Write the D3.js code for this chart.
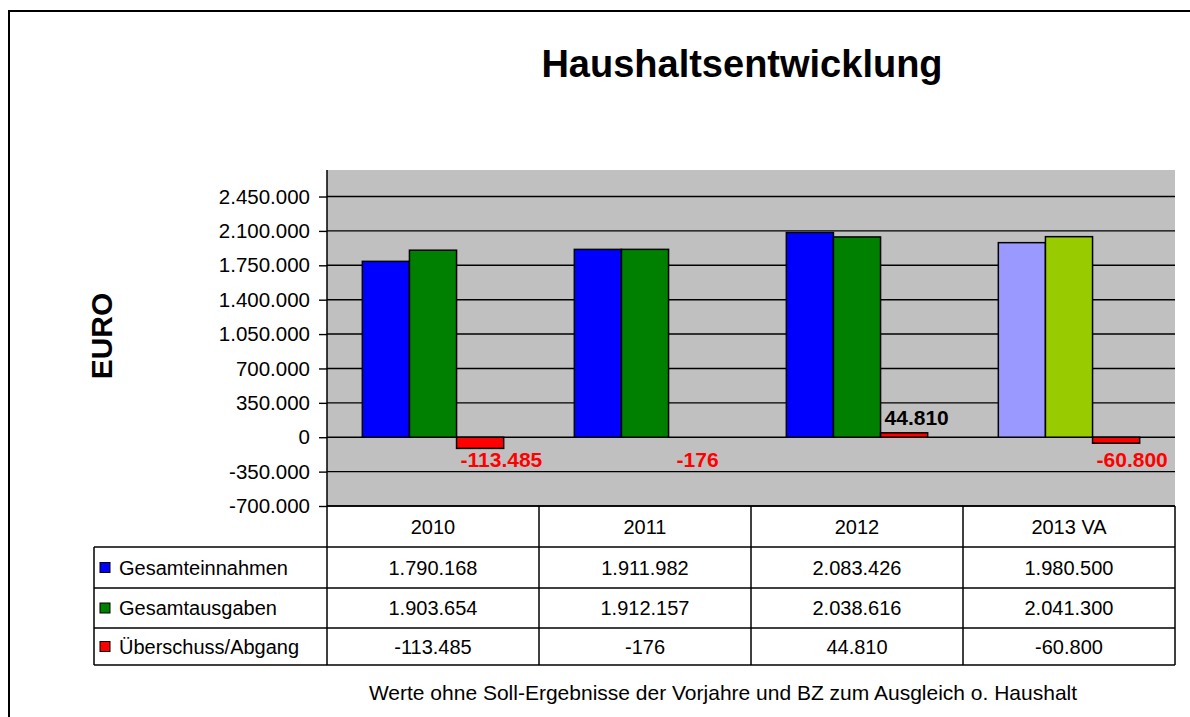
<!DOCTYPE html>
<html>
<head>
<meta charset="utf-8">
<script src="https://cdn.jsdelivr.net/npm/d3@7"></script>
<style>
  html, body { margin: 0; background: #fff; overflow: hidden; }
  svg { display: block; }
  svg text { font-family: "Liberation Sans", Arial, sans-serif; }
</style>
</head>
<body>
<div id="chart"></div>
<script>
// --- Daten ---
const years = ["2010", "2011", "2012", "2013 VA"];
const seriesNames = ["Gesamteinnahmen", "Gesamtausgaben", "Überschuss/Abgang"];
const einnahmen = [1790168, 1911982, 2083426, 1980500];
const ausgaben = [1903654, 1912157, 2038616, 2041300];
const ueberschuss = [-113485, -176, 44810, -60800];
const yTicks = [-700000, -350000, 0, 350000, 700000, 1050000, 1400000, 1750000, 2100000, 2450000];

// Farben (2013 = Planwerte, hellere Töne)
const colors = ["#0000ff", "#008000", "#ff0000"];
const planColors = ["#9999ff", "#99cc00", "#ff0000"];

const title = "Haushaltsentwicklung";
const yLabel = "EURO";
const footnote = "Werte ohne Soll-Ergebnisse der Vorjahre und BZ zum Ausgleich o. Haushalt";

// --- Layout ---
const W = 1190, H = 717;
const plot = { left: 327, right: 1175, top: 170, bottom: 506 };
const rowLines = [506, 547, 588, 628, 665];
const legendLeft = 94;

const de = d3.formatLocale({ decimal: ",", thousands: ".", grouping: [3], currency: ["", " €"], minus: "-" });
const fmt = de.format(",d");

const svg = d3.select("#chart").append("svg")
  .attr("width", W)
  .attr("height", H);

svg.append("rect").attr("width", W).attr("height", H).attr("fill", "#fff");

// Rahmen (nur links und oben sichtbar)
svg.append("path")
  .attr("d", `M9,${H + 10}V11H${W + 10}`)
  .attr("fill", "none").attr("stroke", "#000").attr("stroke-width", 2);

// Skalen
const x = d3.scaleBand().domain(years).range([plot.left, plot.right]);
const xs = d3.scaleBand().domain(seriesNames).range([0, x.bandwidth()])
  .paddingInner(0).paddingOuter(0.75);
const y = d3.scaleLinear().domain([-700000, 2720000]).range([plot.bottom, plot.top]);

// Plotfläche
svg.append("rect")
  .attr("x", plot.left).attr("y", plot.top)
  .attr("width", plot.right - plot.left).attr("height", plot.bottom - plot.top)
  .attr("fill", "#c0c0c0");

// Gitterlinien
svg.append("g")
  .selectAll("line")
  .data(yTicks)
  .join("line")
  .attr("x1", plot.left).attr("x2", plot.right)
  .attr("y1", d => y(d)).attr("y2", d => y(d))
  .attr("stroke", "#000").attr("stroke-width", 1.4);

// Achse Y
const yAxis = svg.append("g")
  .attr("transform", `translate(${plot.left},0)`)
  .call(d3.axisLeft(y).tickValues(yTicks).tickSize(8).tickSizeOuter(0).tickPadding(9).tickFormat(fmt));
yAxis.select(".domain").attr("stroke", "#000").attr("stroke-width", 1.5)
  .attr("d", `M0,${plot.top}V${plot.bottom}`);
yAxis.selectAll(".tick line").attr("stroke", "#000").attr("stroke-width", 1.4);
yAxis.selectAll(".tick text")
  .attr("fill", "#000")
  .style("font-size", "20.5px");

// Balken
const rows = years.map((yr, i) => ({
  year: yr,
  values: [einnahmen[i], ausgaben[i], ueberschuss[i]],
  plan: yr.includes("VA")
}));

const groups = svg.append("g")
  .selectAll("g")
  .data(rows)
  .join("g")
  .attr("transform", d => `translate(${x(d.year)},0)`);

groups.selectAll("rect")
  .data(d => d.values.map((v, j) => ({ v, name: seriesNames[j], j, plan: d.plan })))
  .join("rect")
  .attr("x", d => xs(d.name))
  .attr("width", xs.bandwidth())
  .attr("y", d => y(Math.max(0, d.v)))
  .attr("height", d => Math.abs(y(d.v) - y(0)))
  .attr("fill", d => (d.plan ? planColors : colors)[d.j])
  .attr("stroke", "#000")
  .attr("stroke-width", d => Math.abs(y(d.v) - y(0)) < 1 ? 0 : 1.5);

// Datenbeschriftung Überschuss
groups.append("text")
  .attr("x", (d, i) => xs(seriesNames[2]) + (i === 1 ? 8 : 4))
  .attr("y", (d, i) => ueberschuss[i] >= 0 ? y(ueberschuss[i]) - 8 : y(0) + 30)
  .attr("fill", (d, i) => ueberschuss[i] >= 0 ? "#000" : "#ff0000")
  .style("font-size", "21px")
  .style("font-weight", "bold")
  .text((d, i) => fmt(ueberschuss[i]));

// Titel
svg.append("text")
  .attr("x", 742).attr("y", 77)
  .attr("text-anchor", "middle")
  .style("font-size", "38px")
  .style("font-weight", "bold")
  .text(title);

// Achsentitel
svg.append("text")
  .attr("transform", "translate(112,336) rotate(-90)")
  .attr("text-anchor", "middle")
  .style("font-size", "30px")
  .style("font-weight", "bold")
  .text(yLabel);

// --- Datentabelle ---
const table = svg.append("g").attr("stroke", "#000").attr("stroke-width", 1.5);

// Kopfzeile
table.append("line")
  .attr("x1", plot.left).attr("x2", plot.right)
  .attr("y1", rowLines[0]).attr("y2", rowLines[0]);
rowLines.slice(1).forEach(ry => {
  table.append("line")
    .attr("x1", legendLeft).attr("x2", plot.right)
    .attr("y1", ry).attr("y2", ry);
});
// Senkrechte Linien
years.forEach(yr => {
  table.append("line")
    .attr("x1", x(yr)).attr("x2", x(yr))
    .attr("y1", rowLines[0]).attr("y2", rowLines[4]);
});
table.append("line")
  .attr("x1", plot.right).attr("x2", plot.right)
  .attr("y1", rowLines[0]).attr("y2", rowLines[4]);
table.append("line")
  .attr("x1", legendLeft).attr("x2", legendLeft)
  .attr("y1", rowLines[1]).attr("y2", rowLines[4]);

// Jahre
svg.append("g")
  .selectAll("text")
  .data(years)
  .join("text")
  .attr("x", d => x(d) + x.bandwidth() / 2)
  .attr("y", (rowLines[0] + rowLines[1]) / 2 + 7)
  .attr("text-anchor", "middle")
  .style("font-size", "20px")
  .text(d => d);

// Werte
const tableSeries = [einnahmen, ausgaben, ueberschuss];
tableSeries.forEach((vals, r) => {
  const cy = (rowLines[r + 1] + rowLines[r + 2]) / 2;
  const g = svg.append("g");
  g.selectAll("text")
    .data(vals)
    .join("text")
    .attr("x", (d, i) => x(years[i]) + x.bandwidth() / 2)
    .attr("y", cy + 7)
    .attr("text-anchor", "middle")
    .style("font-size", "20px")
    .text(d => fmt(d));

  // Legendenschlüssel
  g.append("rect")
    .attr("x", legendLeft + 6).attr("y", cy - 5)
    .attr("width", 10).attr("height", 10)
    .attr("fill", colors[r]).attr("stroke", "#000").attr("stroke-width", 1);
  g.append("text")
    .attr("x", legendLeft + 25).attr("y", cy + 7)
    .style("font-size", "20px")
    .text(seriesNames[r]);
});

// Fußnote
svg.append("text")
  .attr("x", 723).attr("y", 700)
  .attr("text-anchor", "middle")
  .style("font-size", "21px")
  .text(footnote);
</script>
</body>
</html>
